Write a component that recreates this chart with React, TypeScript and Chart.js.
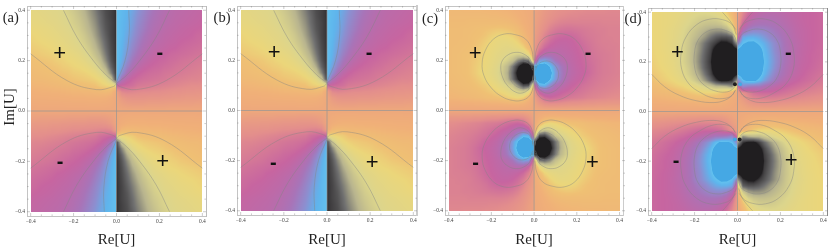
import React, { useEffect, useRef } from "react";
import { Chart, registerables } from "chart.js";
Chart.register(...registerables);

const tickValues = [-0.4, -0.35, -0.3, -0.25, -0.2, -0.15, -0.1, -0.05, 0, 0.05, 0.1, 0.15, 0.2, 0.25, 0.3, 0.35, 0.4];
const majorTicks = [-0.4, -0.2, 0, 0.2, 0.4];

// Upper-right quadrant of each density plot. Rows: Im[U] 0.4 -> 0; columns: Re[U] 0 -> 0.4 (step 0.025).
// Percent on the black(-100)...orange(0)...blue(+100) colour scale; other quadrants flip the sign.
const densityOpen = [
  [97, 93, 90, 84, 77, 71, 65, 60, 56, 53, 50, 48, 47, 46, 45, 44, 43],
  [97, 93, 89, 82, 75, 69, 63, 58, 54, 51, 49, 47, 46, 45, 44, 43, 42],
  [97, 92, 88, 81, 73, 67, 61, 56, 53, 50, 48, 46, 45, 44, 43, 42, 41],
  [97, 92, 87, 79, 71, 65, 59, 54, 51, 48, 46, 45, 43, 42, 41, 40, 39],
  [97, 92, 85, 77, 69, 62, 56, 52, 49, 46, 45, 43, 42, 41, 40, 38, 37],
  [97, 91, 83, 74, 66, 59, 54, 50, 47, 45, 43, 42, 40, 39, 38, 37, 36],
  [97, 90, 81, 71, 63, 56, 51, 47, 45, 43, 41, 40, 38, 37, 36, 35, 34],
  [97, 89, 78, 67, 59, 52, 48, 44, 42, 40, 38, 37, 36, 35, 34, 33, 32],
  [97, 87, 74, 62, 54, 48, 44, 41, 39, 38, 36, 35, 33, 32, 31, 30, 29],
  [96, 83, 67, 56, 48, 43, 40, 38, 37, 35, 34, 32, 31, 30, 29, 28, 27],
  [95, 75, 58, 47, 41, 38, 36, 35, 34, 32, 31, 30, 29, 28, 27, 26, 25],
  [92, 58, 45, 39, 36, 34, 33, 32, 31, 30, 28, 27, 26, 25, 24, 24, 23],
  [40, 38, 36, 34, 30, 29, 28, 27, 26, 25, 24, 23, 22, 21, 20, 20, 19],
  [6, 22, 24, 23, 22, 21, 21, 20, 20, 19, 18, 17, 17, 16, 16, 15, 15],
  [2, 10, 14, 15, 15, 15, 14, 14, 14, 13, 13, 12, 12, 11, 11, 11, 10],
  [1, 5, 7, 8, 8, 8, 7, 7, 7, 7, 6, 6, 6, 6, 6, 5, 5],
  [0, 0, 0, 0, 0, 0, 0, 0, 0, 0, 0, 0, 0, 0, 0, 0, 0],
];
const densitySmall = [
  [3, 7, 11, 14, 16, 18, 19, 20, 21, 21, 22, 22, 22, 22, 23, 23, 23],
  [3, 8, 13, 16, 19, 21, 22, 23, 23, 24, 24, 24, 24, 24, 24, 24, 24],
  [4, 10, 15, 20, 23, 25, 26, 26, 26, 26, 26, 26, 26, 25, 25, 25, 25],
  [5, 12, 19, 25, 29, 31, 32, 32, 31, 30, 29, 28, 27, 27, 26, 26, 26],
  [6, 15, 24, 31, 35, 37, 38, 37, 35, 32, 30, 29, 28, 27, 26, 26, 26],
  [7, 19, 29, 36, 40, 42, 42, 41, 38, 35, 32, 30, 28, 27, 27, 26, 26],
  [9, 26, 37, 42, 44, 45, 44, 42, 40, 37, 34, 31, 29, 28, 27, 27, 26],
  [12, 40, 50, 52, 50, 48, 46, 44, 41, 38, 35, 32, 30, 29, 28, 27, 26],
  [25, 78, 82, 74, 60, 53, 48, 45, 42, 39, 36, 33, 31, 29, 28, 27, 26],
  [100, 112, 115, 96, 78, 63, 54, 47, 43, 40, 37, 34, 31, 29, 28, 27, 26],
  [105, 131, 137, 106, 82, 66, 55, 48, 44, 41, 38, 34, 31, 29, 28, 27, 26],
  [100, 118, 121, 99, 80, 64, 53, 46, 42, 39, 35, 32, 30, 28, 27, 26, 25],
  [30, 88, 90, 74, 58, 52, 46, 41, 38, 34, 32, 30, 28, 27, 26, 25, 24],
  [10, 45, 55, 52, 47, 42, 39, 36, 33, 31, 29, 27, 26, 25, 24, 23, 22],
  [4, 22, 34, 38, 36, 34, 31, 29, 28, 27, 25, 24, 23, 22, 21, 20, 20],
  [2, 10, 16, 18, 18, 17, 16, 15, 15, 14, 13, 13, 12, 12, 11, 11, 11],
  [0, 0, 0, 0, 0, 0, 0, 0, 0, 0, 0, 0, 0, 0, 0, 0, 0],
];
const densityLarge = [
  [5, 22, 34, 42, 46, 48, 49, 49, 48, 46, 44, 43, 42, 41, 40, 39, 38],
  [7, 28, 42, 49, 53, 54, 54, 53, 51, 49, 46, 44, 42, 41, 40, 39, 38],
  [9, 38, 52, 58, 60, 60, 59, 57, 54, 51, 48, 45, 43, 41, 40, 39, 38],
  [15, 55, 68, 72, 72, 70, 66, 62, 58, 54, 50, 46, 44, 42, 40, 39, 38],
  [30, 84, 88, 88, 85, 79, 72, 66, 61, 56, 51, 47, 44, 42, 40, 39, 38],
  [70, 96, 102, 103, 95, 88, 80, 72, 65, 57, 52, 48, 45, 42, 40, 39, 37],
  [100, 110, 122, 120, 106, 92, 83, 73, 65, 58, 52, 48, 44, 42, 40, 38, 37],
  [105, 122, 138, 135, 116, 94, 85, 75, 66, 58, 52, 47, 44, 41, 39, 38, 36],
  [110, 128, 150, 145, 122, 96, 86, 76, 66, 58, 52, 47, 43, 41, 39, 37, 35],
  [105, 122, 138, 135, 116, 94, 85, 74, 64, 56, 50, 46, 42, 40, 38, 36, 34],
  [100, 110, 122, 120, 106, 91, 80, 69, 61, 54, 48, 44, 41, 38, 36, 34, 32],
  [70, 96, 102, 103, 94, 82, 72, 63, 55, 49, 44, 41, 38, 36, 34, 32, 30],
  [30, 72, 65, 62, 62, 56, 52, 47, 43, 40, 37, 35, 33, 31, 29, 27, 26],
  [6, 18, 26, 33, 36, 37, 37, 36, 34, 32, 30, 28, 26, 25, 24, 23, 22],
  [3, 9, 17, 22, 24, 25, 25, 25, 24, 23, 22, 21, 20, 19, 18, 17, 16],
  [1, 4, 8, 11, 12, 13, 13, 13, 12, 12, 11, 11, 10, 10, 9, 9, 9],
  [0, 0, 0, 0, 0, 0, 0, 0, 0, 0, 0, 0, 0, 0, 0, 0, 0],
];

const scaleLevels = [-100, -95, -80, -65, -50, -38, -30, -15, 0, 20, 40, 60, 75, 90, 97, 99.5, 100];
const scaleColors = ["#201e20", "#3c3a3c", "#707070", "#b8b48e", "#dcd58c", "#ebd67a", "#efc074", "#f0b078", "#eea87c", "#e38e8c", "#c765a0", "#a874b8", "#8c8fd0", "#5fb4ec", "#62c0ee", "#45a8e4", "#45a8e4"];

// Contour lines, upper-right quadrant, in [Re, Im] pairs; "both" ones also run on the black side.
const contoursOpenBoth = [
  [[0, 0.108], [0.015, 0.097], [0.093, 0.085], [0.231, 0.121], [0.4, 0.227]],
  [[0, 0.11], [0.046, 0.141], [0.108, 0.2], [0.185, 0.294], [0.247, 0.4]],
];
const contoursOpenBlue = [[[0, 0.115], [0.039, 0.198], [0.059, 0.305], [0.057, 0.4]]];
const contoursSmallBoth = [
  [[0.004, 0.2], [0.012, 0.245], [0.04, 0.285], [0.09, 0.303], [0.14, 0.305], [0.19, 0.285], [0.228, 0.24], [0.243, 0.19], [0.235, 0.14], [0.2, 0.09], [0.15, 0.055], [0.1, 0.04], [0.06, 0.04], [0.025, 0.055], [0.007, 0.085], [0.003, 0.12]],
  [[0.006, 0.17], [0.02, 0.205], [0.05, 0.226], [0.085, 0.232], [0.12, 0.223], [0.148, 0.2], [0.156, 0.17], [0.146, 0.13], [0.12, 0.095], [0.085, 0.073], [0.055, 0.07], [0.025, 0.085], [0.01, 0.11], [0.005, 0.14]],
  [[0.006, 0.16], [0.02, 0.185], [0.05, 0.197], [0.08, 0.193], [0.105, 0.172], [0.115, 0.145], [0.105, 0.115], [0.08, 0.095], [0.05, 0.088], [0.025, 0.095], [0.01, 0.115], [0.005, 0.135]],
];
const contoursLargeBoth = [
  [[0.005, 0.27], [0.015, 0.305], [0.05, 0.325], [0.1, 0.332], [0.15, 0.318], [0.185, 0.285], [0.2, 0.24], [0.2, 0.18], [0.18, 0.13], [0.14, 0.097], [0.1, 0.082], [0.06, 0.078], [0.03, 0.085], [0.012, 0.1]],
  [[0.006, 0.31], [0.025, 0.35], [0.07, 0.37], [0.13, 0.372], [0.19, 0.35], [0.24, 0.3], [0.262, 0.24], [0.26, 0.17], [0.225, 0.11], [0.17, 0.075], [0.12, 0.056], [0.07, 0.052], [0.03, 0.062], [0.01, 0.085]],
  [[0.4, 0.15], [0.34, 0.1], [0.27, 0.065], [0.19, 0.043], [0.11, 0.036], [0.06, 0.045], [0.025, 0.065], [0.01, 0.085]],
  [[0.07, 0.4], [0.035, 0.365], [0.008, 0.33]],
];
const noContours: number[][][] = [];

const plusOpenA = [[-0.264, 0.233], [0.215, -0.197]];
const minusOpenA = [[0.2, 0.227], [-0.264, -0.205]];
const plusOpenB = [[-0.244, 0.235], [0.21, -0.203]];
const minusOpenB = [[0.194, 0.226], [-0.25, -0.21]];
const plusSmall = [[-0.275, 0.231], [0.273, -0.203]];
const minusSmall = [[0.251, 0.226], [-0.275, -0.21]];
const plusLarge = [[-0.279, 0.24], [0.25, -0.194]];
const minusLarge = [[0.235, 0.233], [-0.288, -0.201]];

const blackDots = [[-0.012, 0.11], [0.01, -0.113]];
const blueDots = [[0.012, 0.11], [-0.012, -0.113]];
const noDots: number[][] = [];

const panels = [
  { tag: "(a)", tagAt: [10.7, 18], left: 0, width: 215, frame: [27, 206, 6, 216], grid: densityOpen, both: contoursOpenBoth, blue: contoursOpenBlue, plus: plusOpenA, minus: minusOpenA, blackDots: noDots, blueDots: noDots, rightBorder: "#bbbbbb", rightWidth: 1, yTitle: true },
  { tag: "(b)", tagAt: [12, 18], left: 210, width: 210, frame: [27, 207, 6, 215], grid: densityOpen, both: contoursOpenBoth, blue: contoursOpenBlue, plus: plusOpenB, minus: minusOpenB, blackDots: noDots, blueDots: noDots, rightBorder: "#cccccc", rightWidth: 2, yTitle: false },
  { tag: "(c)", tagAt: [15, 19], left: 415, width: 210, frame: [30, 210, 6, 215], grid: densitySmall, both: contoursSmallBoth, blue: noContours, plus: plusSmall, minus: minusSmall, blackDots: noDots, blueDots: noDots, rightBorder: "#cccccc", rightWidth: 1, yTitle: false },
  { tag: "(d)", tagAt: [12, 19], left: 621, width: 210, frame: [27, 207, 8, 215], grid: densityLarge, both: contoursLargeBoth, blue: noContours, plus: plusLarge, minus: minusLarge, blackDots, blueDots, rightBorder: "#888888", rightWidth: 1, yTitle: false },
];

const CANVAS_H = 251;
const RANGE = 0.417;
const SERIF = "'Liberation Serif'";

const hex = (h: string) => [1, 3, 5].map((i) => parseInt(h.slice(i, i + 2), 16));
const scaleRgb = scaleColors.map(hex);
function colourOf(v: number) {
  const t = Math.max(-100, Math.min(100, v));
  let k = 0;
  while (k < scaleLevels.length - 2 && t > scaleLevels[k + 1]) k++;
  const f = (t - scaleLevels[k]) / (scaleLevels[k + 1] - scaleLevels[k]);
  return [0, 1, 2].map((c) => scaleRgb[k][c] + (scaleRgb[k + 1][c] - scaleRgb[k][c]) * f);
}
function sample(grid: number[][], re: number, im: number) {
  const sign = (re >= 0 ? 1 : -1) * (im >= 0 ? 1 : -1);
  const c = Math.min(15.999, Math.abs(re) / 0.025);
  const r = Math.min(15.999, (0.4 - Math.abs(im)) / 0.025);
  const c0 = Math.floor(c), r0 = Math.max(0, Math.floor(r));
  const fc = c - c0, fr = r - r0;
  const top = grid[r0][c0] * (1 - fc) + grid[r0][c0 + 1] * fc;
  const bot = grid[r0 + 1][c0] * (1 - fc) + grid[r0 + 1][c0 + 1] * fc;
  return sign * (top * (1 - fr) + bot * fr);
}
const pairs = (list: number[][], sx = 1, sy = 1) => list.map(([x, y]) => ({ x: x * sx, y: y * sy }));
const isMajor = (v: number) => majorTicks.some((m) => Math.abs(m - v) < 1e-6);

function buildConfig(p: (typeof panels)[number]) {
  const [fl, fr, ft, fb] = p.frame;
  const lineSets: any[] = [];
  const contour = (pts: any[]) =>
    lineSets.push({ type: "line", data: pts, borderColor: "rgba(130,130,130,0.42)", borderWidth: 1, pointRadius: 0, tension: 0.4, fill: false });
  p.both.forEach((c) => {
    contour(pairs(c, 1, 1));
    contour(pairs(c, -1, 1));
    contour(pairs(c, 1, -1));
    contour(pairs(c, -1, -1));
  });
  p.blue.forEach((c) => {
    contour(pairs(c, 1, 1));
    contour(pairs(c, -1, -1));
  });
  const axisLine = "rgba(150,150,150,0.7)";
  lineSets.push({ type: "line", data: pairs([[-0.4, 0], [0.4, 0]]), borderColor: axisLine, borderWidth: 1, pointRadius: 0 });
  lineSets.push({ type: "line", data: pairs([[0, -0.4], [0, 0.4]]), borderColor: axisLine, borderWidth: 1, pointRadius: 0 });
  if (p.blackDots.length) {
    lineSets.push({ type: "scatter", data: pairs(p.blueDots), pointRadius: 2, backgroundColor: "#45a8e4", borderWidth: 0 });
    lineSets.push({ type: "scatter", data: pairs(p.blackDots), pointRadius: 2, backgroundColor: "#201e20", borderWidth: 0 });
  }

  const ticksFor = (scale: any) => {
    scale.ticks = tickValues.map((value) => ({ value }));
  };
  const labelCb = (v: any) => (isMajor(v) ? (v < 0 ? "\u2212" : "") + Math.abs(v).toFixed(1) : "");
  const tickFont = { family: SERIF, size: 5.5 };
  const frameScale = (extra: any) => ({
    type: "linear",
    min: -RANGE,
    max: RANGE,
    afterBuildTicks: ticksFor,
    grid: { display: false, drawTicks: false },
    border: { display: true, color: "#c4c4c4", width: 1 },
    ...extra,
  });

  const plugin = {
    id: "density",
    beforeDatasetsDraw(chart: any) {
      const sx = chart.scales.x, sy = chart.scales.y, ctx = chart.ctx;
      const x0 = Math.round(sx.getPixelForValue(-0.4)), x1 = Math.round(sx.getPixelForValue(0.4));
      const y0 = Math.round(sy.getPixelForValue(0.4)), y1 = Math.round(sy.getPixelForValue(-0.4));
      const w = x1 - x0, h = y1 - y0;
      const img = ctx.createImageData(w, h);
      for (let j = 0; j < h; j++) {
        const im = sy.getValueForPixel(y0 + j + 0.5);
        for (let i = 0; i < w; i++) {
          const re = sx.getValueForPixel(x0 + i + 0.5);
          const [r, g, b] = colourOf(sample(p.grid, re, im));
          const o = (j * w + i) * 4;
          img.data[o] = r;
          img.data[o + 1] = g;
          img.data[o + 2] = b;
          img.data[o + 3] = 255;
        }
      }
      ctx.putImageData(img, x0, y0);
    },
    afterDraw(chart: any) {
      const { x: sx, y: sy } = chart.scales;
      const ctx = chart.ctx;
      ctx.save();
      ctx.strokeStyle = "rgba(120,120,120,0.55)";
      ctx.lineWidth = 0.7;
      const len = (v: number) => (isMajor(v) ? 3 : 1.6);
      ctx.beginPath();
      tickValues.forEach((v) => {
        const px = sx.getPixelForValue(v), py = sy.getPixelForValue(v);
        ctx.moveTo(px, fb); ctx.lineTo(px, fb - len(v));
        ctx.moveTo(px, ft); ctx.lineTo(px, ft + len(v));
        ctx.moveTo(fl, py); ctx.lineTo(fl + len(v), py);
        ctx.moveTo(fr, py); ctx.lineTo(fr - len(v), py);
      });
      ctx.stroke();

      const centred = (text: string, px: number, py: number, font: string) => {
        ctx.font = font;
        ctx.fillStyle = "#111111";
        ctx.textBaseline = "alphabetic";
        ctx.textAlign = "left";
        const m = ctx.measureText(text);
        const ox = (m.actualBoundingBoxRight - m.actualBoundingBoxLeft) / 2;
        const oy = (m.actualBoundingBoxAscent - m.actualBoundingBoxDescent) / 2;
        ctx.fillText(text, px - ox, py + oy);
      };
      p.plus.forEach(([a, b]) => centred("+", sx.getPixelForValue(a), sy.getPixelForValue(b), "22px 'Liberation Sans'"));
      p.minus.forEach(([a, b]) => centred("-", sx.getPixelForValue(a), sy.getPixelForValue(b), "bold 20px 'Liberation Sans'"));
      ctx.textAlign = "center";
      ctx.textBaseline = "middle";
      ctx.fillStyle = "#222222";
      ctx.font = `14.5px ${SERIF}`;
      ctx.fillText(p.tag, p.tagAt[0], p.tagAt[1]);
      if (p.yTitle) {
        ctx.translate(10.5, 107);
        ctx.rotate(-Math.PI / 2);
        ctx.font = `15px ${SERIF}`;
        ctx.fillText("Im[U]", 0, 0);
      }
      ctx.restore();
    },
  };

  return {
    data: { datasets: lineSets },
    options: {
      responsive: false,
      animation: false,
      devicePixelRatio: 1,
      layout: { padding: 0 },
      plugins: { legend: { display: false }, tooltip: { enabled: false }, title: { display: false } },
      scales: {
        x: frameScale({
          position: "bottom",
          afterFit: (s: any) => { s.height = CANVAS_H - fb; },
          ticks: { autoSkip: false, maxRotation: 0, padding: 2, font: tickFont, color: "#444444", callback: labelCb },
          title: { display: true, text: "Re[U]", color: "#222222", font: { family: SERIF, size: 15 }, padding: { top: 0, bottom: 1.5 } },
        }),
        y: frameScale({
          position: "left",
          afterFit: (s: any) => { s.width = fl; },
          ticks: { autoSkip: false, padding: 2, font: tickFont, color: "#444444", callback: labelCb },
        }),
        xTop: frameScale({
          position: "top",
          afterFit: (s: any) => { s.height = ft; },
          ticks: { display: false },
        }),
        yRight: frameScale({
          position: "right",
          afterFit: (s: any) => { s.width = p.width - fr; },
          ticks: { display: false },
          border: { display: true, color: p.rightBorder, width: p.rightWidth },
        }),
      },
    },
    plugins: [plugin],
  };
}

function Panel({ p }: { p: (typeof panels)[number] }) {
  const ref = useRef<HTMLCanvasElement>(null);
  useEffect(() => {
    const chart = new Chart(ref.current as HTMLCanvasElement, buildConfig(p) as any);
    return () => chart.destroy();
  }, [p]);
  return (
    <canvas
      ref={ref}
      width={p.width}
      height={CANVAS_H}
      style={{ position: "absolute", left: p.left, top: 0, width: p.width, height: CANVAS_H, filter: "blur(0.35px)" }}
    />
  );
}

export default function App() {
  return (
    <div style={{ position: "absolute", left: 0, top: 0, width: 831, height: CANVAS_H, background: "#ffffff", overflow: "hidden" }}>
      {panels.map((p) => (
        <Panel key={p.tag} p={p} />
      ))}
    </div>
  );
}
